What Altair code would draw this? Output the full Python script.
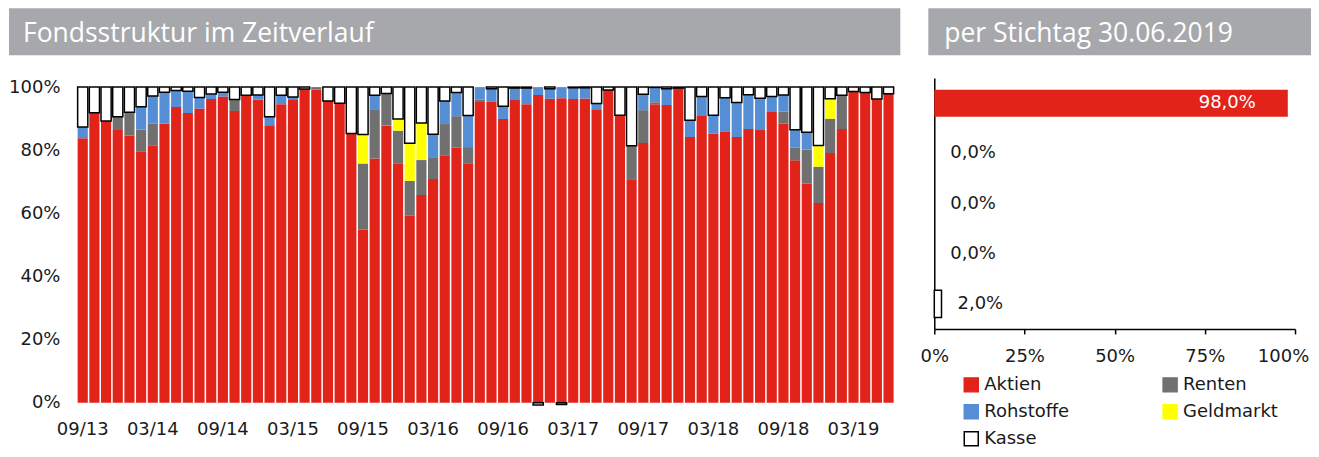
import altair as alt
import pandas as pd

months = ["09/13", "10/13", "11/13", "12/13",
          "01/14", "02/14", "03/14", "04/14", "05/14", "06/14", "07/14", "08/14", "09/14", "10/14", "11/14", "12/14",
          "01/15", "02/15", "03/15", "04/15", "05/15", "06/15", "07/15", "08/15", "09/15", "10/15", "11/15", "12/15",
          "01/16", "02/16", "03/16", "04/16", "05/16", "06/16", "07/16", "08/16", "09/16", "10/16", "11/16", "12/16",
          "01/17", "02/17", "03/17", "04/17", "05/17", "06/17", "07/17", "08/17", "09/17", "10/17", "11/17", "12/17",
          "01/18", "02/18", "03/18", "04/18", "05/18", "06/18", "07/18", "08/18", "09/18", "10/18", "11/18", "12/18",
          "01/19", "02/19", "03/19", "04/19", "05/19", "06/19"]

aktien = [83.8, 91.9, 89.3, 86.4, 84.7, 79.7, 81.4, 88.4, 93.7, 91.8, 93.2, 96.2, 97.0, 92.4, 97.4, 96.1,
          87.9, 94.6, 95.9, 99.4, 99.2, 95.6, 94.9, 85.3, 54.9, 77.4, 87.8, 75.9,
          59.3, 65.8, 70.9, 78.4, 80.8, 75.9, 95.3, 95.3, 89.9, 95.9, 94.6, 97.5,
          96.3, 96.5, 96.2, 96.4, 93.0, 99.1, 91.1, 70.6, 82.3, 94.6, 94.3, 99.7,
          84.2, 91.1, 85.3, 85.8, 84.2, 86.7, 86.4, 92.1, 88.4, 76.8, 69.4, 63.3,
          79.1, 86.7, 98.6, 98.3, 96.2, 97.9]
renten = [0, 0, 0, 4.2, 7.3, 6.9, 7.0, 0, 0, 0, 0, 0, 0, 3.7, 0, 0,
          0, 0, 0, 0, 0.8, 0, 0, 0, 20.9, 15.6, 10.2, 10.3,
          11.0, 11.1, 6.9, 9.9, 10.0, 5.1, 0.7, 0, 0, 0, 0, 0,
          0, 0, 0, 0, 0, 0, 0, 10.8, 10.4, 0.6, 0, 0,
          0, 0, 0, 0, 0, 0, 0, 0, 3.9, 4.1, 10.8, 11.5,
          10.9, 10.7, 0, 0, 0, 0]
rohstoffe = [3.6, 0, 0, 0, 0, 7.2, 8.8, 10.0, 5.2, 6.9, 3.5, 1.6, 1.4, 0, 0, 1.4,
             2.7, 2.8, 1.0, 0, 0, 0, 0, 0, 0, 4.4, 0, 0,
             0, 0, 7.3, 7.3, 7.5, 10.0, 4.0, 4.2, 4.0, 3.8, 5.1, 2.5,
             3.2, 3.5, 3.6, 3.4, 1.8, 0, 0, 0, 5.0, 4.7, 5.2, 0,
             5.3, 5.9, 5.8, 10.8, 10.9, 10.9, 10.1, 4.9, 5.2, 5.6, 5.5, 0,
             0, 0, 0, 0, 0, 0]
geldmarkt = [0, 0, 0, 0, 0, 0, 0, 0, 0, 0, 0, 0, 0, 0, 0, 0,
             0, 0, 0, 0, 0, 0, 0, 0, 9.2, 0, 0, 3.7,
             11.9, 11.7, 0, 0, 0, 0, 0, 0, 0, 0, 0, 0,
             0, 0, 0, 0, 0, 0, 0, 0, 0, 0, 0, 0,
             0, 0, 0, 0, 0, 0, 0, 0, 0, 0, 0, 6.7,
             6.3, 0, 0, 0, 0, 0]
kasse = [12.6, 8.1, 10.7, 9.4, 8.0, 6.2, 2.8, 1.6, 1.1, 1.3, 3.3, 2.2, 1.6, 3.9, 2.6, 2.5,
         9.4, 2.6, 3.1, 0.6, 0, 4.4, 5.1, 14.7, 15.0, 2.6, 2.0, 10.1,
         17.8, 11.4, 14.9, 4.4, 1.7, 9.0, 0, 0.5, 6.1, 0.3, 0.3, -0.7,
         0.5, -0.5, 0.2, 0.2, 5.2, 0.9, 8.9, 18.6, 2.3, 0.1, 0.5, 0.3,
         10.5, 3.0, 8.9, 3.4, 4.9, 2.4, 3.5, 3.0, 2.5, 13.5, 14.3, 18.5,
         3.7, 2.6, 1.4, 1.7, 3.8, 2.1]

categories = ["Aktien", "Renten", "Rohstoffe", "Geldmarkt", "Kasse"]
stichtag_values = [98.0, 0.0, 0.0, 0.0, 2.0]
fills = ["#e2231a", "#707070", "#558ed5", "#ffff00", "#ffffff"]
strokes = ["#e2231a", "#707070", "#558ed5", "#ffff00", "#000000"]
tick_months = months[::6]

FONT = "DejaVu Sans"
HFONT = "Open Sans"
HEADER = "#a7a8ab"
TXT = "#1a1a1a"

rows = []
series = [aktien, renten, rohstoffe, geldmarkt, kasse]
for i, m in enumerate(months):
    for j, c in enumerate(categories):
        v = series[j][i]
        if v != 0:
            rows.append({"month": m, "cat": c, "ord": j, "v": v})
df = pd.DataFrame(rows)

df2 = pd.DataFrame({"cat": categories, "v": stichtag_values,
                    "label": [f"{v:.1f}".replace(".", ",") + "%" for v in stichtag_values]})

# both plot areas start at page y = 78; left one shows 100 % at y = 87
W1, H1 = 818, 325
Y1_MAX = 100 * 325 / 316
W2, H2 = 361, 251

# ---------------- left panel ----------------
bars = alt.Chart(df).mark_bar(strokeWidth=1.5).encode(
    x=alt.X("month:N", sort=months,
            scale=alt.Scale(paddingInner=0.13, paddingOuter=0.06),
            axis=alt.Axis(values=tick_months, labelAngle=0, ticks=False, domain=False,
                          labelFontSize=18, labelPadding=18, title=None, labelFont=FONT,
                          labelColor=TXT)),
    y=alt.Y("v:Q", stack="zero", scale=alt.Scale(domain=[0, Y1_MAX], nice=False),
            axis=alt.Axis(values=[0, 20, 40, 60, 80, 100], labelExpr="datum.value + '%'",
                          grid=False, domain=False, ticks=False, labelPadding=17, title=None,
                          labelFontSize=18, labelFont=FONT, labelColor=TXT)),
    color=alt.Color("cat:N", scale=alt.Scale(domain=categories, range=fills), legend=None),
    stroke=alt.condition("datum.cat == 'Kasse'", alt.value("#000000"), alt.value("transparent")),
    order=alt.Order("ord:Q"),
)

hdr1 = pd.DataFrame({"t": ["Fondsstruktur im Zeitverlauf"]})
hdr1_rect = alt.Chart(hdr1).mark_rect(color=HEADER).encode(
    x=alt.value(-68), x2=alt.value(824), y=alt.value(-70), y2=alt.value(-23))
hdr1_text = alt.Chart(hdr1).mark_text(align="left", baseline="alphabetic", color="white",
                                      fontSize=26.5, font=HFONT).encode(
    x=alt.value(-54), y=alt.value(-36), text="t:N")

left = alt.layer(hdr1_rect, hdr1_text, bars).properties(width=W1, height=H1)

# ---------------- right panel ----------------
legend_kw = dict(title=None, orient="none", legendX=28, legendY=298, columns=2,
                 direction="horizontal", columnPadding=90, rowPadding=7,
                 symbolType="square", symbolSize=196, symbolStrokeWidth=1.5,
                 labelFontSize=18, labelFont=FONT, labelColor=TXT, labelOffset=4, padding=0)

bars2 = alt.Chart(df2).mark_bar().encode(
    y=alt.Y("cat:N", sort=categories,
            scale=alt.Scale(paddingInner=0.46, paddingOuter=0.23),
            axis=alt.Axis(labels=False, ticks=False, domain=True, domainColor="black",
                          domainWidth=1.5, title=None)),
    x=alt.X("v:Q", scale=alt.Scale(domain=[0, 100], nice=False),
            axis=alt.Axis(values=[0, 25, 50, 75, 100], labelExpr="datum.value + '%'",
                          grid=False, domainColor="black", domainWidth=1.5, tickColor="black",
                          tickSize=5, tickWidth=1.5, labelFontSize=18, labelPadding=14,
                          labelFlush=False,
                          labelOffset={"condition": {"test": "datum.value == 100", "value": -12},
                                       "value": 0},
                          title=None, labelFont=FONT, labelColor=TXT)),
    color=alt.Color("cat:N", scale=alt.Scale(domain=categories, range=fills),
                    legend=alt.Legend(**legend_kw)),
    stroke=alt.Stroke("cat:N", scale=alt.Scale(domain=categories, range=strokes),
                      legend=alt.Legend(**legend_kw)),
    strokeWidth=alt.condition("datum.cat == 'Kasse'", alt.value(1.5), alt.value(0)),
)

text_in = alt.Chart(df2).transform_filter("datum.v > 50").mark_text(
    align="right", baseline="middle", dx=-32, color="white", fontSize=18, font=FONT).encode(
    y=alt.Y("cat:N", sort=categories), x="v:Q", text="label:N")
text_out = alt.Chart(df2).transform_filter("datum.v <= 50").mark_text(
    align="left", baseline="middle", dx=16, color=TXT, fontSize=18, font=FONT).encode(
    y=alt.Y("cat:N", sort=categories), x="v:Q", text="label:N")

hdr2 = pd.DataFrame({"t": ["per Stichtag 30.06.2019"]})
hdr2_rect = alt.Chart(hdr2).mark_rect(color=HEADER).encode(
    x=alt.value(-6), x2=alt.value(377), y=alt.value(-70), y2=alt.value(-23))
hdr2_text = alt.Chart(hdr2).mark_text(align="left", baseline="alphabetic", color="white",
                                      fontSize=26.5, font=HFONT).encode(
    x=alt.value(10), y=alt.value(-36), text="t:N")

right = alt.layer(hdr2_rect, hdr2_text, bars2, text_in, text_out).properties(width=W2, height=H2)

chart = alt.hconcat(left, right, spacing=19).resolve_scale(
    color="independent", stroke="independent").properties(
    padding=0).configure_view(stroke=None)

chart.save("out.html", embed_options={"renderer": "svg", "actions": False})
